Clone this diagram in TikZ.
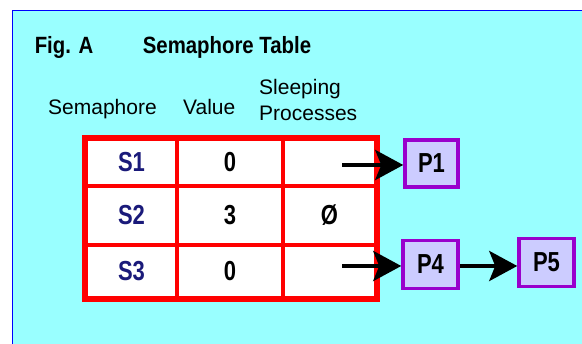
\documentclass[tikz,border=0pt]{standalone}
\usepackage{fontspec}
\setmainfont{Liberation Sans}
\usetikzlibrary{arrows.meta}
\definecolor{bgcyan}{HTML}{99FFFF}
\definecolor{frameblue}{HTML}{0000FF}
\definecolor{cellred}{HTML}{FF0000}
\definecolor{semnavy}{HTML}{1A1A7A}
\definecolor{procpurple}{HTML}{9900CC}
\definecolor{procfill}{HTML}{CCCCFF}
\newcommand{\tallTxt}[1]{\scalebox{1}[1.25]{#1}}
\newcommand{\ttlTxt}[1]{\scalebox{0.97}[1.12]{#1}}
\tikzset{
  hdr/.style={inner sep=0pt, anchor=base west, font=\fontsize{21}{26}\selectfont},
  ttl/.style={inner sep=0pt, font=\bfseries\fontsize{21}{26}\selectfont},
  cell/.style={draw=cellred, line width=3.5pt, fill=white, inner sep=0pt,
    font=\bfseries\fontsize{22}{26}\selectfont},
  proc/.style={draw=procpurple, line width=3.5pt, fill=procfill, inner sep=0pt,
    minimum width=55pt, minimum height=48pt, font=\bfseries\fontsize{22}{26}\selectfont},
  ptr/.style={line width=4pt, -{Stealth[length=28pt 0,width=30pt 0,inset=6pt 0]}}
}
\begin{document}
\begin{tikzpicture}[x=1pt,y=-1pt]
\useasboundingbox (0,0) rectangle (582,344);
\fill[white] (0,0) rectangle (582,344);
\fill[bgcyan] (12,10) rectangle (582,344);
\draw[frameblue, line width=1.8pt] (12.5,344) -- (12.5,10.5) -- (582,10.5);

\node[ttl] (figa) at (64,47) {\ttlTxt{Fig. A}};
\node[ttl] (title) at (227,47) {\ttlTxt{Semaphore Table}};

\node[hdr] (hsem) at (48,115) {Semaphore};
\node[hdr] (hval) at (183,115) {Value};
\node[hdr] (hsl1) at (259,95) {Sleeping};
\node[hdr] (hsl2) at (259,121) {Processes};

% table cells
\node[cell, text=semnavy, minimum width=91pt, minimum height=47pt] (s1) at (131.5,162.5) {\tallTxt{S1}};
\node[cell, minimum width=106pt, minimum height=47pt] (v1) at (230,162.5) {\tallTxt{0}};
\node[cell, minimum width=93pt, minimum height=47pt] (q1) at (329.5,162.5) {};
\node[cell, text=semnavy, minimum width=91pt, minimum height=59pt] (s2) at (131.5,215.5) {\tallTxt{S2}};
\node[cell, minimum width=106pt, minimum height=59pt] (v2) at (230,215.5) {\tallTxt{3}};
\node[cell, minimum width=93pt, minimum height=59pt] (q2) at (329.5,215.5) {\tallTxt{Ø}};
\node[cell, text=semnavy, minimum width=91pt, minimum height=53pt] (s3) at (131.5,271.5) {\tallTxt{S3}};
\node[cell, minimum width=106pt, minimum height=53pt] (v3) at (230,271.5) {\tallTxt{0}};
\node[cell, minimum width=93pt, minimum height=53pt] (q3) at (329.5,271.5) {};
\draw[cellred, line width=4.5pt] (s1.north west) rectangle (q3.south east);

% processes
\node[proc, minimum width=53pt, minimum height=47pt] (p1) at (431.5,163.5) {\tallTxt{P1}};
\node[proc] (p4) at (430.5,264.5) {\tallTxt{P4}};
\node[proc] (p5) at (546.5,262.5) {\tallTxt{P5}};

\coordinate (a1) at (342,165);
\coordinate (a3) at (342,266);
\draw[ptr] (a1) -- (a1 -| p1.west);
\draw[ptr] (a3) -- (a3 -| p4.west);
\draw[ptr] (p4.east |- a3) -- (a3 -| p5.west);
\end{tikzpicture}
\end{document}
